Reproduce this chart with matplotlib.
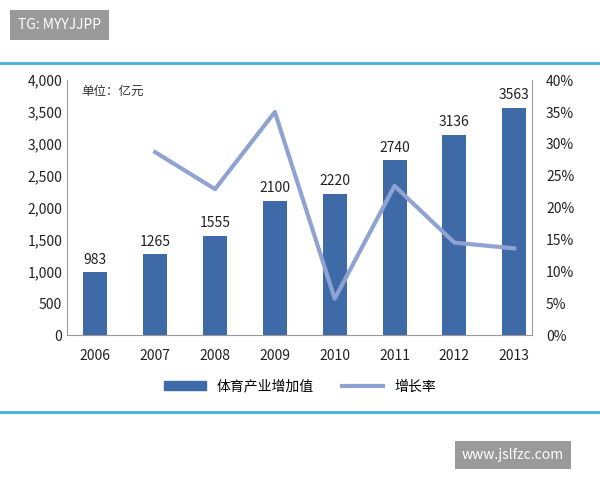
import matplotlib.pyplot as plt
from matplotlib.lines import Line2D
from matplotlib.patches import Patch

plt.rcParams['font.family'] = ['Noto Sans CJK SC', 'DejaVu Sans']

years = ['2006', '2007', '2008', '2009', '2010', '2011', '2012', '2013']
values = [983, 1265, 1555, 2100, 2220, 2740, 3136, 3563]
growth = [None, 28.7, 22.9, 35.0, 5.7, 23.4, 14.5, 13.6]

bar_color = '#3f6aa8'
line_color = '#8fa3d3'

fig = plt.figure(figsize=(6, 4.8), dpi=100)
ax = fig.add_axes([0.112, 0.302, 0.775, 0.531])
x = list(range(len(years)))
ax.bar(x, values, width=0.4, color=bar_color, zorder=2)
for xi, v in zip(x, values):
    ax.text(xi, v + 90, str(v), ha='center', va='bottom', fontsize=10, color='#222222')
ax.set_ylim(0, 4000)
ax.set_xlim(-0.47, 7.3)
ax.set_yticks(range(0, 4001, 500))
ax.set_yticklabels([f'{v:,}' for v in range(0, 4001, 500)])
ax.set_xticks(x)
ax.set_xticklabels(years)
ax.tick_params(length=0, labelsize=10, colors='#222222')
ax.tick_params(axis='x', pad=10)
for s in ['top', 'right']:
    ax.spines[s].set_visible(False)
ax.spines['left'].set_color('#999999')
ax.spines['bottom'].set_color('#999999')
ax.text(0.03, 0.98, '单位：亿元', transform=ax.transAxes, ha='left', va='top', fontsize=9, color='#333333')

ax2 = ax.twinx()
gx = [xi for xi, g in zip(x, growth) if g is not None]
gy = [g for g in growth if g is not None]
ax2.plot(gx, gy, color=line_color, lw=3, zorder=3)
ax2.set_ylim(0, 40)
ax2.set_yticks(range(0, 41, 5))
ax2.set_yticklabels([f'{v}%' for v in range(0, 41, 5)])
ax2.tick_params(length=0, labelsize=10, colors='#222222', pad=10)
for s in ['top', 'left', 'bottom']:
    ax2.spines[s].set_visible(False)
ax2.spines['right'].set_color('#999999')

handles = [Patch(color=bar_color, label='体育产业增加值'),
           Line2D([0], [0], color=line_color, lw=3, label='增长率')]
fig.legend(handles=handles, loc='center', bbox_to_anchor=(0.5, 0.195), ncol=2,
           frameon=False, fontsize=10, handlelength=3, columnspacing=2)

for yy in [1 - 63 / 480, 1 - 412 / 480]:
    fig.add_artist(Line2D([0, 1], [yy, yy], color='#3fb2d8', lw=2))

fig.text(18 / 600, 1 - 25 / 480, 'TG: MYYJJPP', fontsize=10, color='white', va='center',
         bbox=dict(boxstyle='square,pad=0.6', fc='#9a9a9a', ec='none'))
fig.text(462 / 600, 1 - 455 / 480, 'www.jslfzc.com', fontsize=10, color='white', va='center',
         bbox=dict(boxstyle='square,pad=0.5', fc='#9a9a9a', ec='none'))

fig.savefig('out.png', dpi=100)
